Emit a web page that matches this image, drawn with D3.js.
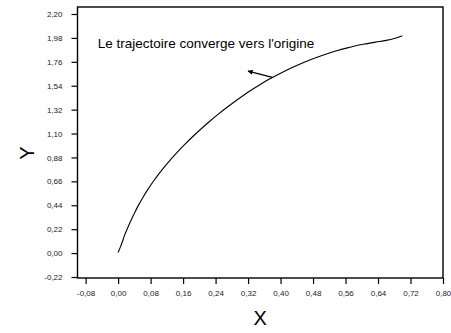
<!DOCTYPE html>
<html>
<head>
<meta charset="utf-8">
<script src="https://cdn.jsdelivr.net/npm/d3@7"></script>
<style>
  html, body { margin: 0; padding: 0; background: #fff; }
  svg { display: block; }
  text { font-family: "Liberation Sans", Arial, sans-serif; }
</style>
</head>
<body>
<svg id="chart" width="451" height="333"></svg>
<script>
// Trajectory samples (x, y)
const trajX = [0.000, 0.005, 0.010, 0.016, 0.025, 0.033, 0.041, 0.050, 0.061, 0.073, 0.086, 0.098,
               0.110, 0.126, 0.143, 0.163, 0.184, 0.200, 0.225, 0.249, 0.270, 0.290, 0.310, 0.330,
               0.350, 0.365, 0.380, 0.405, 0.430, 0.460, 0.490, 0.515, 0.540, 0.562, 0.583, 0.610,
               0.634, 0.660, 0.680, 0.700];
const trajY = [0.005, 0.050, 0.100, 0.165, 0.245, 0.312, 0.374, 0.439, 0.512, 0.584, 0.656, 0.717,
               0.775, 0.847, 0.918, 0.996, 1.073, 1.128, 1.211, 1.285, 1.346, 1.402, 1.455, 1.505,
               1.552, 1.585, 1.616, 1.665, 1.710, 1.759, 1.802, 1.835, 1.864, 1.886, 1.905, 1.925,
               1.941, 1.957, 1.975, 2.000];

// Tick labels
const xTicks = [-0.08, 0.00, 0.08, 0.16, 0.24, 0.32, 0.40, 0.48, 0.56, 0.64, 0.72, 0.80];
const yTicks = [-0.22, 0.00, 0.22, 0.44, 0.66, 0.88, 1.10, 1.32, 1.54, 1.76, 1.98, 2.20];

// Annotation
const noteText = "Le trajectoire converge vers l'origine";
const noteAt = [-0.05, 1.886];
const arrowFrom = [0.380, 1.616];
const arrowTo = [0.320, 1.674];

const svg = d3.select("#chart");
const fmt = v => d3.format(".2f")(v).replace(".", ",").replace("−", "-");

const frame = { left: 77.5, right: 443, top: 7, bottom: 278 };

const x = d3.scaleLinear().domain([-0.10, 0.80]).range([frame.left, frame.right]);
const y = d3.scaleLinear().domain([-0.22, 2.20]).range([277, 14]);

// Frame
svg.append("rect")
  .attr("x", frame.left).attr("y", frame.top)
  .attr("width", frame.right - frame.left).attr("height", frame.bottom - frame.top)
  .attr("fill", "none").attr("stroke", "#000").attr("stroke-width", 1.4);

// Axes
const xAxis = svg.append("g")
  .attr("transform", `translate(0,${frame.bottom})`)
  .call(d3.axisBottom(x).tickValues(xTicks).tickFormat(fmt).tickSize(6).tickPadding(6));
const yAxis = svg.append("g")
  .attr("transform", `translate(${frame.left},0)`)
  .call(d3.axisLeft(y).tickValues(yTicks).tickFormat(fmt).tickSize(6).tickPadding(9));

[xAxis, yAxis].forEach(g => {
  g.select(".domain").remove();
  g.selectAll(".tick line").attr("stroke", "#000").attr("stroke-width", 1.2);
  g.selectAll(".tick text").attr("fill", "#222").style("font-size", "8px")
    .style("font-family", "'Liberation Sans', Arial, sans-serif");
});

// Axis titles
svg.append("text")
  .attr("x", (frame.left + frame.right) / 2).attr("y", 325)
  .attr("text-anchor", "middle").style("font-size", "20px").attr("fill", "#000")
  .text("X");
svg.append("text")
  .attr("transform", "translate(34,153) rotate(-90)")
  .attr("text-anchor", "middle").style("font-size", "20px").attr("fill", "#000")
  .text("Y");

// Trajectory curve
const pts = trajX.map((v, i) => [v, trajY[i]]);
svg.append("path")
  .datum(pts)
  .attr("d", d3.line().curve(d3.curveMonotoneX).x(d => x(d[0])).y(d => y(d[1])))
  .attr("fill", "none").attr("stroke", "#000").attr("stroke-width", 1.1);

// Annotation arrow
svg.append("defs").append("marker")
  .attr("id", "head").attr("viewBox", "0 0 10 10")
  .attr("refX", 9).attr("refY", 5)
  .attr("markerWidth", 7).attr("markerHeight", 5)
  .attr("markerUnits", "userSpaceOnUse")
  .attr("orient", "auto")
  .append("path").attr("d", "M0,0 L10,5 L0,10 Z").attr("fill", "#000");

svg.append("line")
  .attr("x1", x(arrowFrom[0])).attr("y1", y(arrowFrom[1]))
  .attr("x2", x(arrowTo[0])).attr("y2", y(arrowTo[1]))
  .attr("stroke", "#000").attr("stroke-width", 1.3)
  .attr("marker-end", "url(#head)");

svg.append("text")
  .attr("x", x(noteAt[0])).attr("y", y(noteAt[1]))
  .style("font-size", "13.5px").attr("fill", "#000")
  .text(noteText);
</script>
</body>
</html>
